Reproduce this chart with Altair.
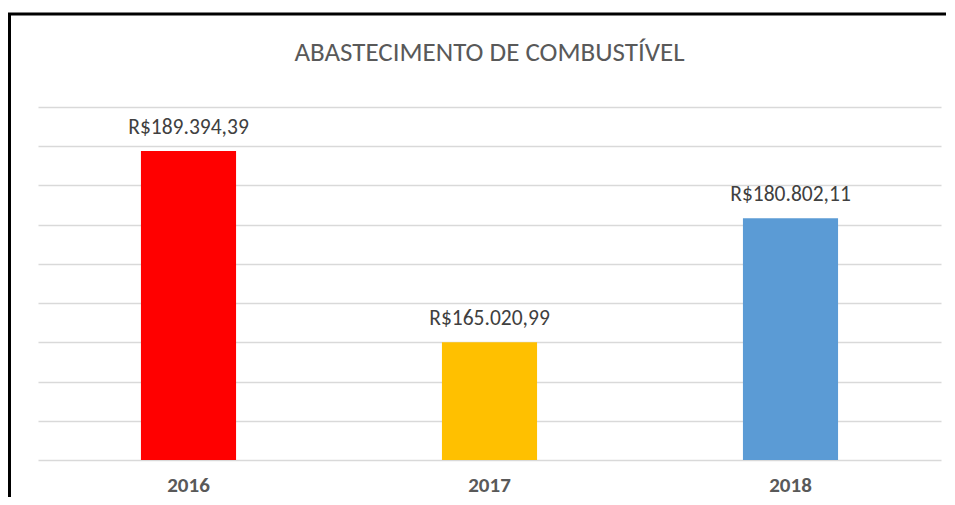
import altair as alt
import pandas as pd

years = ["2016", "2017", "2018"]
values = [189394.39, 165020.99, 180802.11]
colors = ["#FF0000", "#FFC000", "#5B9BD5"]
labels = ["R$189.394,39", "R$165.020,99", "R$180.802,11"]
title_text = "ABASTECIMENTO DE COMBUSTÍVEL"

df = pd.DataFrame({"year": years, "value": values, "color": colors, "label": labels})

FONT = "Carlito, Calibri, Lato, sans-serif"

x = alt.X("year:N", sort=years, title=None,
          scale=alt.Scale(paddingInner=0.684, paddingOuter=0.342),
          axis=alt.Axis(labelAngle=0, labelFont=FONT, labelFontSize=21, labelFontWeight="bold",
                        labelColor="#595959", ticks=False, domain=False, labelPadding=14))
y = alt.Y("value:Q", title=None,
          scale=alt.Scale(domain=[150000, 195000], zero=False, nice=False),
          axis=alt.Axis(values=list(range(150000, 195001, 5000)), labels=False, ticks=False,
                        domain=False, grid=True, gridColor="#D9D9D9", gridWidth=1.3))

base = alt.Chart(df)
bars = base.mark_bar(clip=True).encode(
    x=x, y=y, y2=alt.datum(150000),
    color=alt.Color("color:N", scale=None),
)
text = base.mark_text(dy=-23, font=FONT, fontSize=21.5, color="#404040", baseline="middle").encode(
    x=x, y=y, text="label:N"
)

one = alt.Data(values=[{"t": title_text}])
title = alt.Chart(one).mark_text(font=FONT, fontSize=27, color="#595959", baseline="middle",
                                 align="center").encode(
    x=alt.value(451.5), y=alt.value(-54), text="t:N"
)

border = alt.Chart(one).mark_rect(
    fill=None, fillOpacity=0, stroke="black", strokeWidth=3
).encode(
    x=alt.value(-28.5), x2=alt.value(1000), y=alt.value(-93), y2=alt.value(1000)
)

chart = alt.layer(bars, text, title, border).properties(
    width=903, height=353,
    autosize=alt.AutoSizeParams(type="none"),
    padding={"left": 30, "top": 99, "right": 5, "bottom": 37},
).configure(background="white", view=alt.ViewConfig(stroke=None))

chart.save("out.html", embed_options={"renderer": "svg", "actions": False})
